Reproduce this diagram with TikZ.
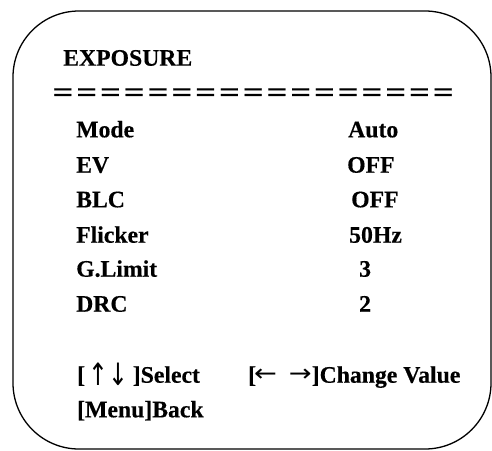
\documentclass[tikz,border=0pt]{standalone}
\usepackage{fontspec}
\setmainfont{Liberation Serif}[BoldFeatures={FakeBold=0.4}]
\newfontfamily\arrowfont{DejaVu Sans}
\newcommand\varr[1]{\raisebox{-3pt}{\scalebox{1}[1.3]{\arrowfont\mdseries #1}}}
\newcommand\harr[1]{\raisebox{1pt}{\scalebox{1.15}[1]{\arrowfont\mdseries #1}}}
\begin{document}
\begin{tikzpicture}[x=1pt,y=-1pt,
  lbl/.style={anchor=base west,inner sep=0pt,font=\fontsize{23.7}{28}\selectfont\bfseries},
  eqsign/.style={anchor=base,inner sep=0pt,xscale=1.3,font=\fontsize{28}{30}\selectfont\bfseries}]
  \useasboundingbox (0,0) rectangle (492,450);
  % menu frame
  \draw[line width=1.3pt,rounded corners=66pt] (13,11) rectangle (491,449);
  % title and separator
  \node[lbl] (title) at (63,65.7) {EXPOSURE};
  \foreach \i in {0,...,16}{
    \node[eqsign] (eq\i) at ({63+23.77*\i},101.5) {=};
  }
  % settings and values
  \node[lbl] (mode)    at (76,137.3) {Mode};
  \node[lbl] (ev)      at (76,172.7) {EV};
  \node[lbl] (blc)     at (76,207.3) {BLC};
  \node[lbl] (flicker) at (76,242.7) {Flicker};
  \node[lbl] (glimit)  at (76,276.7) {G.Limit};
  \node[lbl] (drc)     at (76,311.7) {DRC};
  \node[lbl] (modev)    at (348,137.3) {Auto};
  \node[lbl] (evv)      at (347,172.7) {OFF};
  \node[lbl] (blcv)     at (351,207.3) {OFF};
  \node[lbl] (flickerv) at (349,242.7) {50Hz};
  \node[lbl] (glimitv)  at (359,276.7) {3};
  \node[lbl] (drcv)     at (359,311.7) {2};
  % key help
  \node[lbl] (select) at (77,382.7) {[\kern3pt\varr{↑}\kern1pt\varr{↓}\kern4pt]Select};
  \node[lbl] (change) at (248,382.7) {[\kern-2pt\harr{←}\kern12pt\harr{→}]Change Value};
  \node[lbl] (back)   at (77,417.3) {[Menu]Back};
\end{tikzpicture}
\end{document}
